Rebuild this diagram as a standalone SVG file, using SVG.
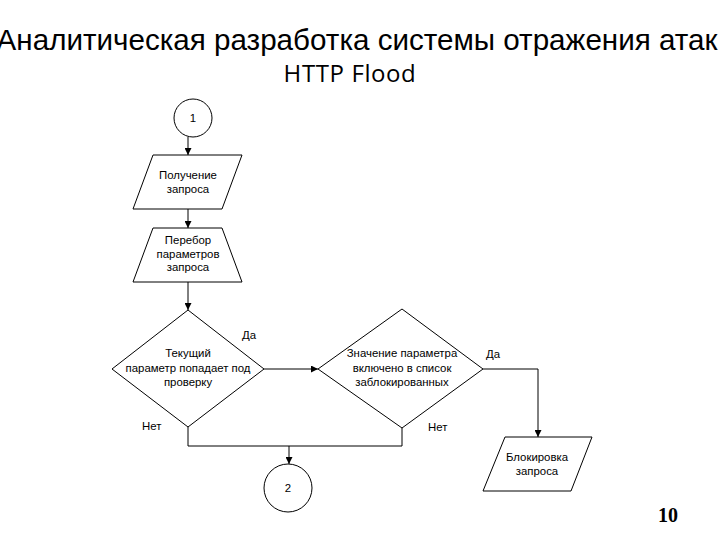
<svg xmlns="http://www.w3.org/2000/svg" width="720" height="540" viewBox="0 0 720 540">
<style>
.shape{fill:#ffffff;stroke:#000000;stroke-width:1}
.t{font-family:"Liberation Sans",Arial,sans-serif;font-size:11.4px;fill:#000000;text-anchor:middle}
.lbl{font-family:"Liberation Sans",Arial,sans-serif;font-size:11.4px;fill:#000000}
.c{fill:none;stroke:#000000;stroke-width:1}
</style>
<defs>
<marker id="arr" viewBox="0 0 10 10" refX="10" refY="5" markerWidth="7" markerHeight="7" markerUnits="userSpaceOnUse" orient="auto">
<path d="M0,0 L10,5 L0,10 Z" fill="#000000"/>
</marker>
</defs>
<rect width="720" height="540" fill="#ffffff"/>
<g id="title">
<text x="357" y="50" font-family="'Liberation Sans',Arial,sans-serif" font-size="29.6" text-anchor="middle" fill="#000000">Аналитическая разработка системы отражения атак</text>
<text x="350" y="82" font-family="'Open Sans','Noto Sans',sans-serif" font-size="24" letter-spacing="0.6" text-anchor="middle" fill="#000000">HTTP Flood</text>
</g>
<g id="connectors">
<path class="c" d="M188,137 L188,155" marker-end="url(#arr)"/>
<path class="c" d="M188,209 L188,228" marker-end="url(#arr)"/>
<path class="c" d="M188,282 L188,310" marker-end="url(#arr)"/>
<path class="c" d="M264,369 L318,369" marker-end="url(#arr)"/>
<path class="c" d="M483,369 L538,369 L538,437" marker-end="url(#arr)"/>
<path class="c" d="M188,427 L188,446 L402,446 L402,428"/>
<path class="c" d="M289,446 L289,464" marker-end="url(#arr)"/>
<text class="lbl" x="242" y="339">Да</text>
<text class="lbl" x="142" y="430">Нет</text>
<text class="lbl" x="428" y="431">Нет</text>
<text class="lbl" x="486" y="358">Да</text>
</g>
<g id="start1">
<circle class="shape" cx="193" cy="118" r="19"/>
<text class="t" x="193" y="122">1</text>
</g>
<g id="receive">
<polygon class="shape" points="153,155 242,155 222,209 133,209"/>
<text class="t" x="188" y="179">Получение</text>
<text class="t" x="188" y="193">запроса</text>
</g>
<g id="iterate">
<polygon class="shape" points="153,228 222,228 242,282 133,282"/>
<text class="t" x="188" y="244">Перебор</text>
<text class="t" x="188" y="258">параметров</text>
<text class="t" x="188" y="271">запроса</text>
</g>
<g id="check">
<polygon class="shape" points="188,310 264,369 188,427 112,369"/>
<text class="t" x="188" y="357">Текущий</text>
<text class="t" x="188" y="372">параметр попадает под</text>
<text class="t" x="188" y="386">проверку</text>
</g>
<g id="blacklist">
<polygon class="shape" points="402,309 483,369 402,428 318,369"/>
<text class="t" x="402" y="357">Значение параметра</text>
<text class="t" x="402" y="372">включено в список</text>
<text class="t" x="402" y="386">заблокированных</text>
</g>
<g id="block">
<polygon class="shape" points="505,437 592,437 571,491 483,491"/>
<text class="t" x="537" y="461">Блокировка</text>
<text class="t" x="537" y="475">запроса</text>
</g>
<g id="end2">
<circle class="shape" cx="288" cy="488" r="24"/>
<text class="t" x="288" y="492">2</text>
</g>
<g id="page">
<text x="668" y="522" font-family="'Liberation Serif','Times New Roman',serif" font-size="20" font-weight="bold" text-anchor="middle" fill="#000000">10</text>
</g>
</svg>
